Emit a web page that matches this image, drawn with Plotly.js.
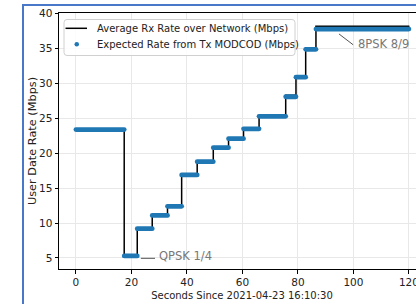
<!DOCTYPE html>
<html>
<head>
<meta charset="utf-8">
<script src="https://cdn.plot.ly/plotly-3.0.1.min.js"></script>
<style>
  html, body { margin: 0; padding: 0; background: #fff; }
  #wrap { position: relative; width: 416px; height: 304px; overflow: hidden; background: #fff; }
  #chart { position: absolute; left: 0; top: 0; width: 440px; height: 304px; }
  #bl { position: absolute; left: 22px; top: 4px; width: 2px; height: 300px; background: #4a78c8; }
  #bt { position: absolute; left: 22px; top: 4px; width: 394px; height: 2px; background: #4a78c8; }
  .scatterlayer .js-line { stroke-linecap: round; }
</style>
</head>
<body>
<div id="wrap">
  <div id="chart"></div>
  <div id="bl"></div>
  <div id="bt"></div>
</div>
<script>
// Step levels (seconds, Mbps)
const levelStart = [0, 17.4, 22.1, 27.5, 33.0, 38.1, 43.7, 49.5, 55.0, 60.4, 66.0, 75.6, 79.3, 82.8, 86.5];
const levelEnd   = [17.4, 22.1, 27.5, 33.0, 38.1, 43.7, 49.5, 55.0, 60.4, 66.0, 75.6, 79.3, 82.8, 86.5, 120.0];
const expectedRate = [23.4, 5.3, 9.2, 11.1, 12.4, 16.9, 18.8, 20.8, 22.1, 23.5, 25.3, 28.1, 30.9, 34.9, 37.8];
const rxRate       = [23.5, 5.4, 9.3, 11.2, 12.5, 17.0, 18.9, 20.9, 22.2, 23.6, 25.4, 28.3, 31.1, 35.1, 38.2];

const xTicks = [0, 20, 40, 60, 80, 100, 120];
const yTicks = [5, 10, 15, 20, 25, 30, 35, 40];

const seriesNames = ["Average Rx Rate over Network (Mbps)", "Expected Rate from Tx MODCOD (Mbps)"];
const labelQPSK = "QPSK 1/4";
const label8PSK = "8PSK 8/9";

// Rx line: step through each level, ending at the last level end
const rxX = levelStart.concat([levelEnd[levelEnd.length - 1]]);
const rxY = rxRate.concat([rxRate[rxRate.length - 1]]);

// Expected rate: horizontal segments per level
const exX = [], exY = [];
for (let i = 0; i < levelStart.length; i++) {
  exX.push(levelStart[i], levelEnd[i], null);
  exY.push(expectedRate[i], expectedRate[i], null);
}

const font = "DejaVu Sans, sans-serif";

// plot-area geometry (pixels) used for the hand-made legend box
const M = { l: 59, r: 15, t: 13, b: 35 }, W = 440, H = 304;
const PW = W - M.l - M.r, PH = H - M.t - M.b;
const px = x => (x - M.l) / PW;
const py = y => 1 - (y - M.t) / PH;

function roundRect(x0, y0, x1, y1, r) {
  const rx = r / PW, ry = r / PH;
  const X0 = px(x0), X1 = px(x1), Y0 = py(y0), Y1 = py(y1); // Y0 top (larger)
  return `M ${X0 + rx},${Y0} L ${X1 - rx},${Y0} Q ${X1},${Y0} ${X1},${Y0 - ry} ` +
         `L ${X1},${Y1 + ry} Q ${X1},${Y1} ${X1 - rx},${Y1} L ${X0 + rx},${Y1} ` +
         `Q ${X0},${Y1} ${X0},${Y1 + ry} L ${X0},${Y0 - ry} Q ${X0},${Y0} ${X0 + rx},${Y0} Z`;
}

const traces = [
  {
    x: rxX, y: rxY, type: "scatter", mode: "lines",
    line: { color: "#000000", width: 1.5, shape: "hv" },
    name: seriesNames[0]
  },
  {
    x: exX, y: exY, type: "scatter", mode: "lines",
    line: { color: "#1f77b4", width: 4.8 },
    hoverinfo: "skip",
    name: seriesNames[1]
  }
];

const axisCommon = {
  showline: true, linecolor: "#000", linewidth: 1, mirror: true,
  ticks: "outside", ticklen: 3.5, tickwidth: 1, tickcolor: "#000",
  showgrid: true, gridcolor: "#e8e8e8", gridwidth: 1,
  zeroline: false,
  tickfont: { family: font, size: 10.5, color: "#222" }
};

const layout = {
  width: W, height: H,
  margin: M,
  paper_bgcolor: "#ffffff", plot_bgcolor: "#ffffff",
  font: { family: font, color: "#222" },
  showlegend: false,
  xaxis: Object.assign({}, axisCommon, {
    range: [-6.1, 125.8], tickvals: xTicks,
    title: { text: "Seconds Since 2021-04-23 16:10:30", font: { family: font, size: 10, color: "#222" }, standoff: 4 }
  }),
  yaxis: Object.assign({}, axisCommon, {
    range: [3.42, 40.1], tickvals: yTicks,
    title: { text: "User Date Rate (Mbps)", font: { family: font, size: 11.3, color: "#222" }, standoff: 0 }
  }),
  shapes: [
    // legend box
    { type: "path", xref: "paper", yref: "paper", path: roundRect(64, 19.5, 295, 55.5, 3),
      fillcolor: "rgba(255,255,255,0.85)", line: { color: "#d0d0d0", width: 1 } },
    // legend line sample
    { type: "line", xref: "paper", yref: "paper", x0: px(65.5), x1: px(87), y0: py(28.3), y1: py(28.3),
      line: { color: "#000", width: 1.5 } },
    // legend marker sample
    { type: "circle", xref: "paper", yref: "paper", x0: px(74.5), x1: px(79), y0: py(42), y1: py(46.5),
      fillcolor: "#1f77b4", line: { color: "#1f77b4", width: 0 } },
    // annotation leader lines
    { type: "line", xref: "x", yref: "y", x0: levelEnd[1] + 1.3, y0: expectedRate[1] - 0.35, x1: levelEnd[1] + 6.4, y1: expectedRate[1] - 0.35,
      line: { color: "#555", width: 1 } },
    { type: "line", xref: "x", yref: "y", x0: 94.8, y0: 37.1, x1: 99.9, y1: 35.55,
      line: { color: "#555", width: 1 } }
  ],
  annotations: [
    { xref: "paper", yref: "paper", x: px(95), y: py(28.3), text: seriesNames[0], showarrow: false,
      xanchor: "left", yanchor: "middle", font: { family: font, size: 10, color: "#222" } },
    { xref: "paper", yref: "paper", x: px(95), y: py(44.3), text: seriesNames[1], showarrow: false,
      xanchor: "left", yanchor: "middle", font: { family: font, size: 10, color: "#222" } },
    { xref: "x", yref: "y", x: 29.1, y: 5.25, text: labelQPSK, showarrow: false,
      xanchor: "left", yanchor: "middle", font: { family: font, size: 11.5, color: "#777" } },
    { xref: "x", yref: "y", x: 100.8, y: 35.6, text: label8PSK, showarrow: false,
      xanchor: "left", yanchor: "middle", font: { family: font, size: 11.5, color: "#777" } }
  ]
};

Plotly.newPlot("chart", traces, layout, { staticPlot: true, displayModeBar: false });
</script>
</body>
</html>
